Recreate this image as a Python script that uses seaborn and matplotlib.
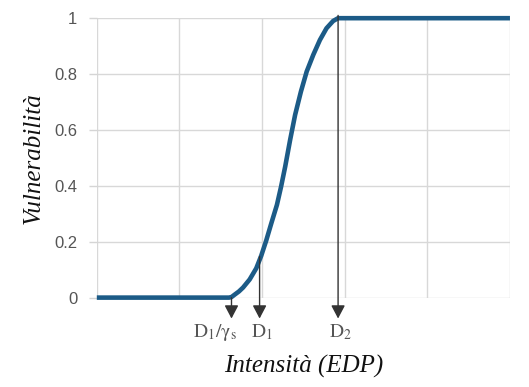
import matplotlib
matplotlib.use("Agg")
import matplotlib.pyplot as plt
import seaborn as sns
import pandas as pd
from matplotlib.patches import FancyArrowPatch

intensity = [0.0, 1.0, 1.60, 1.63, 1.67, 1.72, 1.77, 1.85, 1.93, 1.99, 2.05, 2.11, 2.18,
             2.23, 2.28, 2.34, 2.40, 2.47, 2.54, 2.62, 2.70, 2.78, 2.86, 2.92, 4.0, 5.0]
vulnerability = [0.0, 0.0, 0.0, 0.002, 0.011, 0.022, 0.036, 0.065, 0.105, 0.150, 0.204, 0.264, 0.332,
                 0.397, 0.469, 0.565, 0.654, 0.737, 0.809, 0.869, 0.922, 0.964, 0.990, 1.0, 1.0, 1.0]

# Marker labels and positions
marker_labels = [r"$\mathrm{D_1/\gamma_s}$", r"$\mathrm{D_1}$", r"$\mathrm{D_2}$"]
marker_x = [1.63, 1.97, 2.92]
marker_top = [0.0, 0.147, 1.01]
marker_label_x = [1.43, 2.0, 2.95]

y_ticks = [0, 0.2, 0.4, 0.6, 0.8, 1]
y_ticklabels = ["0", "0.2", "0.4", "0.6", "0.8", "1"]
x_grid = [0, 1, 2, 3, 4, 5]

sns.set_theme(style="white")
plt.rcParams["mathtext.fontset"] = "stix"

fig = plt.figure(figsize=(5.29, 3.87), dpi=100)
ax = fig.add_axes([0.183, 0.231, 0.781, 0.722])

df = pd.DataFrame({"x": intensity, "y": vulnerability})
sns.lineplot(data=df, x="x", y="y", ax=ax, color="#1c5b87", lw=3.3,
             solid_capstyle="butt", solid_joinstyle="round", zorder=3, clip_on=False)

ax.set_xlim(0, 5)
ax.set_ylim(0, 1)
ax.set_xticks(x_grid)
ax.set_xticklabels([])
ax.set_yticks(y_ticks)
ax.set_yticklabels(y_ticklabels, fontsize=12, color="#555555", family="Liberation Sans")
ax.tick_params(axis="y", length=6, width=1, color="#d5d5d5", pad=8, left=True)
ax.tick_params(axis="x", length=0)
ax.grid(True, color="#d8d8d8", lw=1)
for s in ax.spines.values():
    s.set_visible(False)

for lab, xv, yt, lx in zip(marker_labels, marker_x, marker_top, marker_label_x):
    arr = FancyArrowPatch((xv, yt), (xv, -0.075), transform=ax.transData,
                          arrowstyle="-|>,head_length=0.8,head_width=0.42",
                          mutation_scale=10, color="#333333", lw=1,
                          shrinkA=0, shrinkB=0, clip_on=False, zorder=4)
    ax.add_patch(arr)
    ax.text(lx, -0.125, lab, ha="center", va="center", fontsize=14,
            color="#555555", clip_on=False)

ax.set_xlabel("Intensità (EDP)", fontsize=18, family="Liberation Serif",
              style="italic", color="#111111", labelpad=38)
ax.set_ylabel("Vulnerabilità", fontsize=18, family="Liberation Serif",
              style="italic", color="#111111", labelpad=7)

fig.savefig("out.png", dpi=100, facecolor="white")
